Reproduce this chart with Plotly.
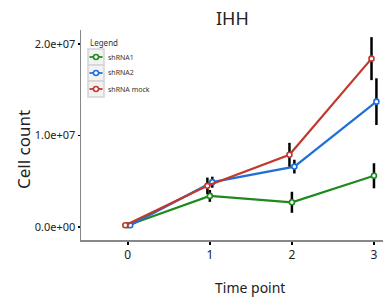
import plotly.graph_objects as go

time_points = [0, 1, 2, 3]
series_names = ["shRNA1", "shRNA2", "shRNA mock"]
sh1_values = [0.2e6, 3.4e6, 2.7e6, 5.6e6]
sh1_errors = [0.0, 0.65e6, 1.15e6, 1.37e6]
sh2_values = [0.2e6, 4.9e6, 6.6e6, 13.7e6]
sh2_errors = [0.0, 0.6e6, 0.75e6, 2.55e6]
mock_values = [0.2e6, 4.5e6, 7.9e6, 18.4e6]
mock_errors = [0.0, 0.9e6, 1.3e6, 2.35e6]
y_tick_values = [0, 1e7, 2e7]
y_tick_labels = ["0.0e+00", "1.0e+07", "2.0e+07"]

colors = ["#1e8a1e", "#1f6fd8", "#c0392b"]
dodge = [0.0, 0.03, -0.03]

W, H = 383, 299
L, R, T, B = 81, 0, 30, 59
PW, PH = W - L - R, H - T - B


def px(x):
    return (x - L) / PW


def py(y):
    return 1 - (y - T) / PH


fig = go.Figure()
for name, vals, errs, col, dx in zip(series_names,
                                     [sh1_values, sh2_values, mock_values],
                                     [sh1_errors, sh2_errors, mock_errors],
                                     colors, dodge):
    fig.add_trace(go.Scatter(
        x=[t + dx for t in time_points], y=vals, name=name,
        mode="lines+markers", showlegend=False, hoverinfo="skip",
        line=dict(color=col, width=2.2),
        marker=dict(symbol="circle", size=5, color="white",
                    line=dict(color=col, width=1.6)),
        error_y=dict(type="data", array=errs, visible=True,
                     color="black", thickness=2.5, width=0),
    ))

annotations = []
shapes = []
# manual ggplot-style legend
annotations.append(dict(text="Legend", xref="paper", yref="paper",
                        x=px(88), y=py(42), xanchor="left", yanchor="middle",
                        showarrow=False, font=dict(size=8, color="#333")))
for i, (name, col) in enumerate(zip(series_names, colors)):
    top = 49 + 16 * i
    cy = top + 8
    shapes.append(dict(type="rect", xref="paper", yref="paper",
                       x0=px(88), x1=px(104), y0=py(top + 16), y1=py(top),
                       line=dict(color="#d4d4d4", width=1.5),
                       fillcolor="#f2f2f2", layer="below"))
    shapes.append(dict(type="line", xref="paper", yref="paper",
                       x0=px(89.5), x1=px(102.5), y0=py(cy), y1=py(cy),
                       line=dict(color=col, width=1.8)))
    shapes.append(dict(type="circle", xref="paper", yref="paper",
                       x0=px(93.5), x1=px(98.5), y0=py(cy + 2.5), y1=py(cy - 2.5),
                       line=dict(color=col, width=1.5), fillcolor="white"))
    annotations.append(dict(text=name, xref="paper", yref="paper",
                            x=px(106), y=py(cy), xanchor="left",
                            yanchor="middle", showarrow=False,
                            font=dict(size=7, color="#333")))

annotations.append(dict(text="IHH", xref="paper", yref="paper",
                        x=px(232), y=py(17.5), xanchor="center",
                        yanchor="middle", showarrow=False,
                        font=dict(size=18, color="#222")))
annotations.append(dict(text="Time point", xref="paper", yref="paper",
                        x=px(250), y=py(287), xanchor="center",
                        yanchor="middle", showarrow=False,
                        font=dict(size=14, color="#222")))
annotations.append(dict(text="Cell count", xref="paper", yref="paper",
                        x=px(23), y=py(150), xanchor="center",
                        yanchor="middle", showarrow=False, textangle=-90,
                        font=dict(size=17, color="#222")))

fig.update_layout(
    width=W, height=H,
    margin=dict(l=L, r=R, t=T, b=B, autoexpand=False),
    paper_bgcolor="white", plot_bgcolor="white",
    font=dict(family="Noto Sans", color="black"),
    showlegend=False, hovermode=False,
    annotations=annotations, shapes=shapes,
    xaxis=dict(range=[-0.57, 3.11], tickvals=time_points,
               ticktext=[str(t) for t in time_points],
               showgrid=False, zeroline=False, showline=True,
               linecolor="#888", linewidth=1.5, automargin=False,
               ticks="outside", ticklen=3, tickcolor="black", tickwidth=1.5,
               tickfont=dict(size=12, color="#222"), fixedrange=True),
    yaxis=dict(range=[-0.142e7, 2.153e7], tickvals=y_tick_values,
               ticktext=y_tick_labels, automargin=False,
               showgrid=False, zeroline=False, showline=True,
               linecolor="#888", linewidth=1.5,
               ticks="outside", ticklen=2, tickcolor="black", tickwidth=1.5,
               tickfont=dict(size=11, color="#222"), fixedrange=True),
)

fig.write_html("out.html",
               config={"displayModeBar": False, "staticPlot": True},
               post_script="document.body.style.margin='0px';"
                           "document.body.style.overflow='hidden';")
